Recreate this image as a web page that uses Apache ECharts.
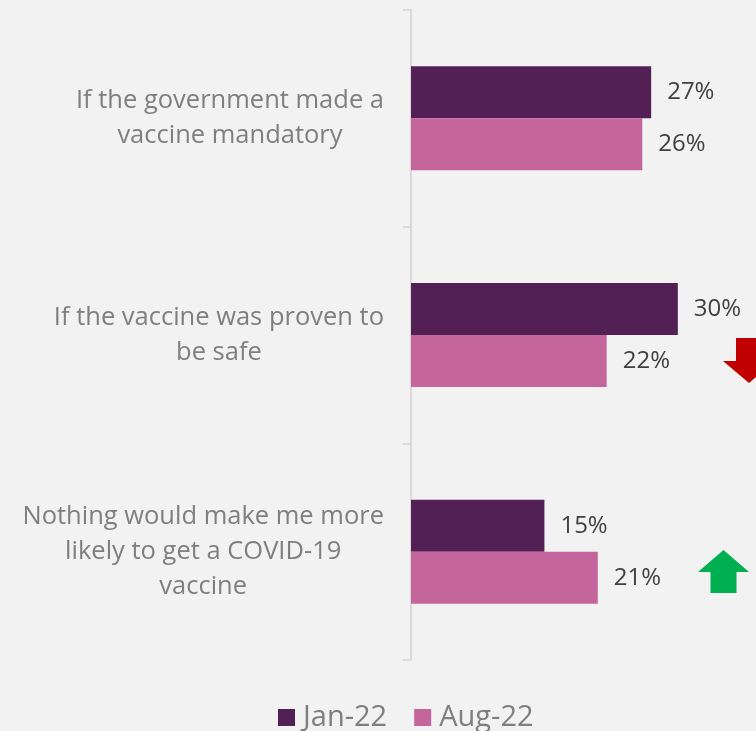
<!DOCTYPE html>
<html>
<head>
<meta charset="utf-8">
<script src="https://cdn.jsdelivr.net/npm/echarts@6/dist/echarts.min.js"></script>
<style>
  html, body { margin: 0; padding: 0; background: #f2f2f2; }
  #chart { width: 756px; height: 731px; }
</style>
</head>
<body>
<div id="chart"></div>
<script>
// Reasons that would make respondents more likely to get vaccinated
const categories = [
  'If the government made a\nvaccine mandatory',
  'If the vaccine was proven to\nbe safe',
  'Nothing would make me more\nlikely to get a COVID-19\nvaccine'
];
const seriesNames = ['Jan-22', 'Aug-22'];
const jan22 = [27, 30, 15];
const aug22 = [26, 22, 21];

const FONT = '"Open Sans", sans-serif';
const chart = echarts.init(document.getElementById('chart'));

const valueLabel = {
  show: true, position: 'right', distance: 16,
  formatter: '{c}%', color: '#404040', fontSize: 24, fontFamily: FONT
};

chart.setOption({
  backgroundColor: '#f2f2f2',
  animation: false,
  grid: { left: 411, right: 7, top: 10, bottom: 71, containLabel: false },
  legend: {
    data: seriesNames,
    top: 703,
    left: 278,
    padding: 0,
    icon: 'rect',
    itemWidth: 17,
    itemHeight: 17,
    itemGap: 27,
    textStyle: { color: '#7f7f7f', fontSize: 29, fontFamily: FONT, padding: [0, 0, 0, 3] }
  },
  xAxis: {
    type: 'value',
    min: 0,
    max: 38,
    show: false
  },
  yAxis: {
    type: 'category',
    inverse: true,
    data: categories,
    axisLine: { show: true, lineStyle: { color: '#d9d9d9', width: 2 } },
    axisTick: { show: true, length: 8, lineStyle: { color: '#d9d9d9', width: 2 } },
    axisLabel: {
      margin: 27,
      align: 'right',
      formatter: v => v.split('\n').map(l => '{c|' + l + '}').join('\n'),
      rich: {
        c: { align: 'center', color: '#7f7f7f', fontSize: 25.5, fontFamily: FONT, lineHeight: 35 }
      }
    }
  },
  series: [
    {
      name: seriesNames[0],
      type: 'bar',
      data: jan22,
      barWidth: 52,
      barGap: '0%',
      itemStyle: { color: '#532056' },
      label: valueLabel
    },
    {
      name: seriesNames[1],
      type: 'bar',
      data: aug22,
      barWidth: 52,
      barGap: '0%',
      itemStyle: { color: '#c4659b' },
      label: valueLabel
    }
  ],
  graphic: [
    // change markers: significant decrease / increase
    {
      type: 'polygon',
      shape: { points: [[736, 338], [762, 338], [762, 361], [775, 361], [749, 383], [723, 361], [736, 361]] },
      style: { fill: '#c00000' }
    },
    {
      type: 'polygon',
      shape: { points: [[723.5, 550], [749, 572], [736.5, 572], [736.5, 593], [710.5, 593], [710.5, 572], [698, 572]] },
      style: { fill: '#00b050' }
    }
  ]
});
</script>
</body>
</html>
